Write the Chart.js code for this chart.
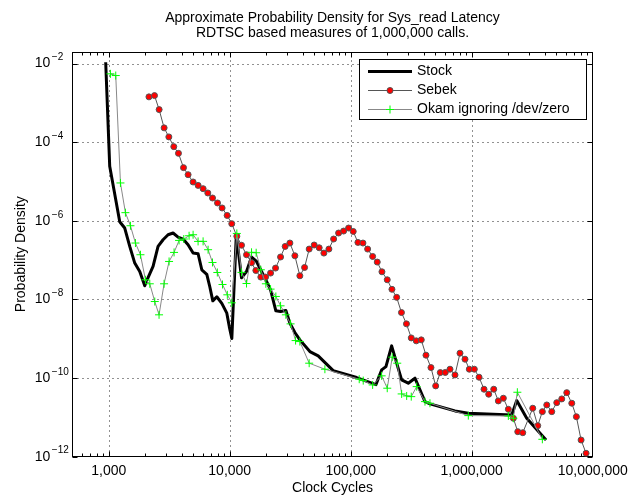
<!DOCTYPE html>
<html>
<head>
<meta charset="utf-8">
<script src="https://cdn.jsdelivr.net/npm/chart.js@4.4.0/dist/chart.umd.min.js"></script>
<style>
  body { margin: 0; background: #fff; }
</style>
</head>
<body>
<canvas id="chart" width="631" height="495"></canvas>
<script>
const FONT = '"Liberation Sans", Arial, Helvetica, sans-serif';

// clock cycles / probability density
const stockCycles = [944, 1019, 1233, 1356, 1492, 1641, 1805, 1985, 2074, 2325, 2557, 2812, 3093, 3402, 3742, 4116, 4527, 4981, 5478, 5878,
  6466, 6845, 7248, 7824, 8604, 9463, 9924, 10410, 11340, 12520, 13770, 15150, 16660, 18320, 20160, 21760, 24060, 26310, 29110, 31420,
  34560, 38000, 45980, 53850, 71670, 111900, 161600, 180100, 195500, 217900, 239800, 263600, 298900, 339600, 410900, 451900, 727600, 937300,
  2142000, 2356000, 2850000, 4118000];
const stockDensity = [1.08e-2, 2.43e-5, 9.48e-7, 6.55e-7, 2.23e-7, 8.41e-8, 5.14e-8, 2.22e-8, 3.16e-8, 6.89e-8, 2.23e-7, 3.30e-7, 4.42e-7, 4.89e-7, 3.86e-7, 3.44e-7, 2.46e-7, 1.51e-7, 1.45e-7, 5.68e-8,
  4.36e-8, 2.10e-8, 9.22e-9, 1.17e-8, 7.96e-9, 4.48e-9, 2.01e-9, 1.02e-9, 4.42e-7, 3.55e-8, 5.14e-8, 1.20e-7, 9.24e-8, 5.14e-8, 2.86e-8, 1.76e-8, 5.13e-9, 4.92e-9, 5.22e-9, 2.50e-9,
  1.44e-9, 9.37e-10, 4.72e-10, 3.67e-10, 1.55e-10, 1.03e-10, 6.81e-11, 1.61e-10, 1.96e-10, 6.59e-10, 2.39e-10, 8.98e-11, 7.40e-11, 9.92e-11, 2.52e-11, 2.20e-11, 1.46e-11, 1.27e-11,
  1.15e-11, 2.67e-11, 9.50e-12, 2.66e-12];

const sebekCycles = [2150, 2390, 2610, 2870, 3140, 3450, 3770, 4150, 4530, 4980, 5480, 6030, 6590, 7210, 7930, 8650, 9520, 10400, 11450, 12520,
  13770, 15150, 16440, 18080, 19780, 21760, 23920, 26310, 28720, 31420, 34560, 38000, 41560, 45370, 49900, 54890, 60020, 66020, 72220, 79420,
  87360, 96070, 104900, 114700, 126200, 138000, 151800, 165700, 181200, 200400, 219200, 239800, 262700, 288900, 316500, 348200, 382900, 418800, 460700, 503800,
  549900, 604700, 661500, 727600, 800300, 880300, 955200, 1051000, 1150000, 1264000, 1382000, 1521000, 1660000, 1826000, 2008000, 2209000, 2402000, 2642000,
  3196000, 3515000, 3836000, 4173000, 4588000, 5047000, 5551000, 6106000, 6716000, 7331000, 8017000, 8818000];
const sebekDensity = [1.42e-3, 1.53e-3, 6.74e-4, 2.31e-4, 1.36e-4, 7.70e-5, 5.20e-5, 2.25e-5, 1.49e-5, 9.72e-6, 7.96e-6, 6.56e-6, 5.10e-6, 3.80e-6, 2.84e-6, 2.12e-6, 1.37e-6, 8.43e-7, 4.05e-7, 2.39e-7,
  1.37e-7, 8.56e-8, 5.45e-8, 3.70e-8, 3.70e-8, 4.68e-8, 6.27e-8, 1.20e-7, 2.23e-7, 2.72e-7, 1.29e-7, 3.99e-8, 6.50e-8, 1.91e-7, 2.42e-7, 2.06e-7, 1.51e-7, 1.91e-7, 3.44e-7, 4.89e-7,
  5.49e-7, 6.55e-7, 5.36e-7, 2.82e-7, 2.72e-7, 1.91e-7, 1.24e-7, 8.92e-8, 5.05e-8, 3.16e-8, 1.81e-8, 1.13e-8, 4.64e-9, 2.39e-9, 1.05e-9, 8.84e-10, 9.37e-10, 3.82e-10, 1.85e-10, 6.32e-11,
  1.38e-10, 1.39e-10, 1.68e-10, 1.20e-10, 4.30e-10, 3.02e-10, 1.68e-10, 1.68e-10, 1.05e-10, 5.20e-11, 3.88e-11, 5.20e-11, 2.62e-11, 3.07e-11, 1.61e-11, 9.50e-12, 4.33e-12, 4.08e-12,
  1.71e-11, 6.16e-12, 1.40e-11, 2.07e-11, 1.40e-11, 2.37e-11, 2.95e-11, 4.26e-11, 2.29e-11, 1.04e-11, 2.66e-12, 1.22e-12];

const okamCycles = [1033, 1143, 1250, 1374, 1512, 1663, 1829, 2012, 2184, 2402, 2606, 2867, 3153, 3468, 3815, 4173, 4615, 4981, 5478, 6026,
  6628, 7206, 7898, 8717, 9553, 10410, 11450, 12520, 13770, 15150, 16540, 18080, 19890, 21760, 24060, 26310, 29110, 31840, 35030, 38000,
  45370, 61180, 117600, 126900, 151800, 180100, 200400, 220400, 242400, 263600, 290000, 316500, 350900, 410900, 451900, 937300, 2008000, 2209000, 2384000, 3836000];
const okamDensity = [5.47e-3, 4.95e-3, 9.17e-6, 1.61e-6, 7.49e-7, 2.72e-7, 1.37e-7, 3.16e-8, 2.50e-8, 8.85e-9, 4.06e-9, 2.50e-8, 9.24e-8, 1.57e-7, 3.17e-7, 3.44e-7, 4.17e-7, 4.42e-7, 2.99e-7, 3.00e-7,
  1.84e-7, 8.71e-8, 4.85e-8, 2.40e-8, 1.31e-8, 8.20e-9, 4.77e-7, 4.87e-8, 2.54e-8, 1.58e-7, 1.54e-7, 5.68e-8, 2.50e-8, 1.83e-8, 1.19e-8, 6.88e-9, 4.06e-9, 2.39e-9, 8.99e-10, 8.48e-10,
  2.39e-10, 1.68e-10, 9.35e-11, 8.62e-11, 6.69e-11, 1.14e-10, 5.52e-11, 3.40e-10, 2.39e-10, 3.95e-11, 3.51e-11, 3.37e-11, 6.06e-11, 2.52e-11, 2.29e-11, 1.11e-11, 1.09e-11, 9.50e-12, 4.36e-11, 2.77e-12];

const xTicks = [1e3, 1e4, 1e5, 1e6, 1e7];
const yTicks = [1e-12, 1e-10, 1e-8, 1e-6, 1e-4, 1e-2];

function points(xs, ys) {
  return xs.map((x, i) => ({ x: x, y: ys[i] }));
}

function withCommas(v) {
  return String(Math.round(v)).replace(/\B(?=(\d{3})+(?!\d))/g, ',');
}

// matlab style box, inward ticks, dotted grid, superscript y labels, legend
const matlabAxes = {
  id: 'matlabAxes',
  beforeDatasetsDraw(chart) {
    const { ctx, chartArea: a, scales: { x, y } } = chart;
    const L = Math.round(a.left) + 0.5, R = Math.round(a.right) - 0.5;
    const T = Math.round(a.top) + 0.5, B = Math.round(a.bottom) - 0.5;
    ctx.save();

    ctx.strokeStyle = '#222';
    ctx.lineWidth = 1;
    ctx.setLineDash([1, 4]);
    xTicks.forEach(v => {
      const px = Math.round(x.getPixelForValue(v)) + 0.5;
      if (px <= L + 1 || px >= R - 1) return;
      ctx.beginPath(); ctx.moveTo(px, B); ctx.lineTo(px, T); ctx.stroke();
    });
    yTicks.forEach(v => {
      const py = Math.round(y.getPixelForValue(v)) + 0.5;
      if (py <= T + 1 || py >= B - 1) return;
      ctx.beginPath(); ctx.moveTo(L, py); ctx.lineTo(R, py); ctx.stroke();
    });
    ctx.setLineDash([]);

    ctx.strokeStyle = '#000';
    // x ticks, major and minor
    for (let d = 2; d <= 7; d++) {
      for (let k = 1; k <= 9; k++) {
        const v = k * Math.pow(10, d);
        if (v <= x.min || v >= x.max) continue;
        const px = Math.round(x.getPixelForValue(v)) + 0.5;
        const len = k === 1 ? 5 : 3;
        ctx.beginPath();
        ctx.moveTo(px, B); ctx.lineTo(px, B - len);
        ctx.moveTo(px, T); ctx.lineTo(px, T + len);
        ctx.stroke();
      }
    }
    yTicks.forEach(v => {
      const py = Math.round(y.getPixelForValue(v)) + 0.5;
      ctx.beginPath();
      ctx.moveTo(L, py); ctx.lineTo(L + 5, py);
      ctx.moveTo(R, py); ctx.lineTo(R - 5, py);
      ctx.stroke();
    });

    ctx.lineWidth = 1;
    ctx.strokeRect(L, T, R - L, B - T);

    // y tick labels 10^n
    ctx.fillStyle = '#000';
    ctx.textBaseline = 'middle';
    yTicks.forEach(v => {
      const py = y.getPixelForValue(v);
      const exp = Math.round(Math.log10(v));
      ctx.font = '14px ' + FONT;
      ctx.textAlign = 'right';
      ctx.fillText('10', a.left - 22, py);
      ctx.font = '10px ' + FONT;
      ctx.textAlign = 'left';
      ctx.fillText((exp < 0 ? '\u2212' : '') + Math.abs(exp), a.left - 20.5, py - 6);
    });
    ctx.restore();
  },
  afterDraw(chart) {
    const { ctx } = chart;
    const box = { x: 359.5, y: 59.5, w: 227, h: 60 };
    const rows = [71, 90, 109];
    ctx.save();
    ctx.fillStyle = '#fff';
    ctx.fillRect(box.x, box.y, box.w, box.h);
    ctx.strokeStyle = '#000';
    ctx.lineWidth = 1;
    ctx.strokeRect(box.x, box.y, box.w, box.h);

    chart.data.datasets.forEach((ds, i) => {
      const ry = rows[i] + 0.5;
      ctx.strokeStyle = ds.borderColor;
      ctx.lineWidth = ds.borderWidth;
      ctx.beginPath(); ctx.moveTo(368, ry); ctx.lineTo(412, ry); ctx.stroke();
      if (ds.pointRadius > 0) {
        const mx = 390;
        if (ds.pointStyle === 'cross') {
          const r = ds.pointRadius;
          ctx.strokeStyle = ds.pointBorderColor;
          ctx.lineWidth = ds.pointBorderWidth;
          ctx.beginPath();
          ctx.moveTo(mx - r, ry); ctx.lineTo(mx + r, ry);
          ctx.moveTo(mx, ry - r); ctx.lineTo(mx, ry + r);
          ctx.stroke();
        } else {
          ctx.fillStyle = ds.pointBackgroundColor;
          ctx.strokeStyle = ds.pointBorderColor;
          ctx.lineWidth = ds.pointBorderWidth;
          ctx.beginPath(); ctx.arc(mx, ry, ds.pointRadius, 0, Math.PI * 2);
          ctx.fill(); ctx.stroke();
        }
      }
      ctx.fillStyle = '#000';
      ctx.font = '14px ' + FONT;
      ctx.textAlign = 'left';
      ctx.textBaseline = 'middle';
      ctx.fillText(ds.label, 417, rows[i] + 0.5);
    });
    ctx.restore();
  }
};

new Chart(document.getElementById('chart'), {
  type: 'line',
  data: {
    datasets: [
      {
        label: 'Stock',
        data: points(stockCycles, stockDensity),
        borderColor: '#000000',
        borderWidth: 3,
        borderJoinStyle: 'round',
        pointRadius: 0,
        tension: 0,
        order: 3
      },
      {
        label: 'Sebek',
        data: points(sebekCycles, sebekDensity),
        borderColor: '#555555',
        borderWidth: 1,
        pointRadius: 3,
        pointBackgroundColor: '#ff0000',
        pointBorderColor: '#555555',
        pointBorderWidth: 1,
        tension: 0,
        order: 2
      },
      {
        label: 'Okam ignoring /dev/zero',
        data: points(okamCycles, okamDensity),
        borderColor: '#888888',
        borderWidth: 1,
        pointStyle: 'cross',
        pointRadius: 4,
        pointBorderColor: '#00ff00',
        pointBorderWidth: 1,
        tension: 0,
        order: 1
      }
    ]
  },
  options: {
    responsive: false,
    animation: false,
    devicePixelRatio: 1,
    layout: { padding: { left: 0, right: 38.3, top: 0, bottom: 0 } },
    plugins: {
      legend: { display: false },
      tooltip: { enabled: false },
      title: {
        display: true,
        fullSize: false,
        text: ['Approximate Probability Density for Sys_read Latency', 'RDTSC based measures of 1,000,000 calls.'],
        color: '#000',
        font: { family: FONT, size: 14, weight: 'normal', lineHeight: 15 / 14 },
        padding: { top: 10.5, bottom: 11.2 }
      }
    },
    scales: {
      x: {
        type: 'logarithmic',
        min: 500,
        max: 1e7,
        grid: { display: false },
        border: { display: false },
        afterBuildTicks: s => { s.ticks = xTicks.map(v => ({ value: v })); },
        ticks: {
          color: '#000',
          font: { family: FONT, size: 14 },
          padding: -2,
          maxRotation: 0,
          autoSkip: false,
          callback: v => withCommas(v)
        },
        title: {
          display: true,
          text: 'Clock Cycles',
          color: '#000',
          font: { family: FONT, size: 14, lineHeight: 1 },
          padding: { top: 0, bottom: 0 }
        },
        afterFit: s => { s.height = 38.3; }
      },
      y: {
        type: 'logarithmic',
        min: 1e-12,
        max: 0.02,
        grid: { display: false },
        border: { display: false },
        afterBuildTicks: s => { s.ticks = yTicks.map(v => ({ value: v })); },
        ticks: { display: false },
        title: {
          display: true,
          text: 'Probability Density',
          color: '#000',
          font: { family: FONT, size: 14, lineHeight: 1.2 },
          padding: { top: 13, bottom: 0 }
        },
        afterFit: s => { s.width = 72.3; }
      }
    }
  },
  plugins: [matlabAxes]
});
</script>
</body>
</html>
